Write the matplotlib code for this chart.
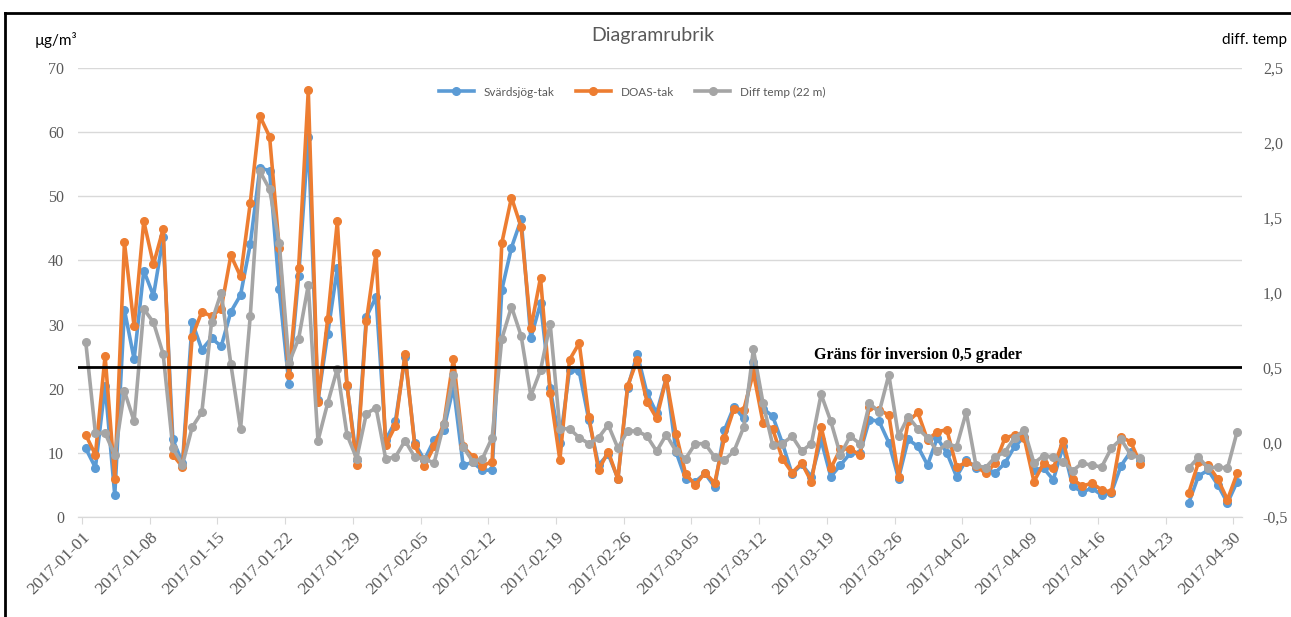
#!/usr/bin/env python3
"""
Svärdsjög-tak / DOAS-tak mot temperaturdifferens, jan-apr 2017
"""
import numpy as np
import pandas as pd
import matplotlib
matplotlib.use('Agg')
import matplotlib.pyplot as plt
import matplotlib.dates as mdates
from matplotlib.lines import Line2D

nan = np.nan

dates = pd.date_range('2017-01-01', '2017-04-30', freq='D')

svardsjog = [10.7, 7.7, 20.5, 3.4, 32.3, 24.6, 38.4, 34.5, 43.6, 12.1,
             8.4, 30.4, 26.1, 27.9, 26.6, 32.0, 34.6, 42.5, 54.4, 54.0,
             35.5, 20.7, 37.5, 59.2, 18.2, 28.5, 38.8, 20.5, 8.9, 31.2,
             34.3, 12.0, 14.9, 25.0, 11.5, 8.9, 12.0, 13.6, 20.3, 8.1,
             8.5, 7.3, 7.3, 35.4, 42.0, 46.4, 27.9, 33.3, 20.1, 11.5,
             22.9, 22.7, 15.1, 8.1, 9.8, 6.0, 20.1, 25.4, 19.3, 16.2,
             21.7, 10.2, 5.9, 5.5, 6.8, 4.7, 13.5, 17.2, 15.4, 24.2,
             16.9, 15.7, 11.5, 6.7, 8.2, 6.3, 12.0, 6.3, 8.1, 9.9,
             9.9, 15.2, 14.9, 11.6, 6.0, 12.1, 11.0, 8.1, 12.3, 10.0,
             6.3, 8.9, 7.7, 7.6, 6.9, 8.4, 11.0, 12.5, 7.4, 7.6,
             5.8, 11.0, 4.8, 3.9, 4.5, 3.4, 3.8, 8.0, 10.2, 8.9,
             nan, nan, nan, nan, 2.2, 6.4, 7.3, 5.0, 2.2, 5.5]

doas = [12.8, 9.7, 25.1, 6.0, 42.8, 29.7, 46.1, 39.4, 44.9, 9.7,
        7.8, 28.1, 32.0, 31.3, 32.5, 40.8, 37.5, 48.9, 62.5, 59.3,
        41.9, 22.1, 38.8, 66.5, 18.0, 30.8, 46.1, 20.6, 8.1, 30.5,
        41.2, 11.2, 14.2, 25.4, 11.2, 8.0, 11.0, 14.5, 24.7, 11.0,
        9.4, 8.0, 8.6, 42.7, 49.8, 45.2, 29.4, 37.3, 19.4, 8.9,
        24.5, 27.1, 15.6, 7.3, 10.2, 5.9, 20.4, 24.5, 18.0, 15.4,
        21.6, 13.0, 6.7, 5.0, 6.9, 5.3, 12.3, 16.9, 16.7, 22.5,
        14.7, 13.7, 9.1, 6.9, 8.4, 5.5, 14.1, 7.6, 10.6, 10.6,
        9.7, 17.2, 16.7, 15.9, 6.3, 14.9, 16.3, 12.0, 13.3, 13.6,
        7.8, 8.5, 8.0, 6.8, 8.4, 12.3, 12.8, 12.3, 5.5, 8.4,
        7.6, 11.9, 5.9, 4.8, 5.3, 4.2, 3.9, 12.5, 11.7, 8.3,
        nan, nan, nan, nan, 3.8, 8.5, 8.1, 5.9, 2.7, 6.8]

diff_temp = [0.67, 0.06, 0.06, -0.085, 0.34, 0.14, 0.89, 0.80, 0.59, -0.04,
             -0.15, 0.10, 0.20, 0.80, 1.00, 0.52, 0.09, 0.84, 1.81, 1.69,
             1.33, 0.53, 0.69, 1.05, 0.01, 0.26, 0.49, 0.05, -0.11, 0.19,
             0.23, -0.11, -0.10, 0.01, -0.10, -0.11, -0.14, 0.12, 0.45, -0.03,
             -0.13, -0.11, 0.03, 0.69, 0.905, 0.71, 0.31, 0.48, 0.79, 0.09,
             0.09, 0.03, -0.01, 0.03, 0.115, -0.04, 0.075, 0.075, 0.04, -0.06,
             0.05, -0.06, -0.11, -0.01, -0.01, -0.10, -0.12, -0.06, 0.10, 0.62,
             0.26, -0.02, -0.01, 0.04, -0.06, -0.01, 0.32, 0.14, -0.085, 0.04,
             -0.01, 0.26, 0.20, 0.45, 0.04, 0.17, 0.09, 0.03, -0.06, -0.01,
             -0.03, 0.20, -0.155, -0.17, -0.10, -0.065, 0.03, 0.08, -0.14, -0.09,
             -0.10, -0.13, -0.19, -0.14, -0.155, -0.165, -0.04, 0.02, -0.085, -0.105,
             nan, nan, nan, nan, -0.174, -0.10, -0.174, -0.165, -0.174, 0.071]

tick_dates = pd.date_range('2017-01-01', '2017-04-30', freq='7D')
inversion_limit = 0.5

BLUE = '#5B9BD5'
ORANGE = '#ED7D31'
GRAY = '#A5A5A5'
TXT = '#595959'

fig = plt.figure(figsize=(12.91, 6.17), dpi=100)
ax = fig.add_axes([78/1291, 1-517/617, (1242-78)/1291, (517-68)/617])
ax2 = ax.twinx()

x = mdates.date2num(dates)
ax.plot(x, svardsjog, color=BLUE, lw=2.6, marker='o', ms=5.5, label='Svärdsjög-tak', zorder=3)
ax.plot(x, doas, color=ORANGE, lw=2.6, marker='o', ms=5.5, label='DOAS-tak', zorder=4)
ax2.plot(x, diff_temp, color=GRAY, lw=2.6, marker='o', ms=5.5, label='Diff temp (22 m)', zorder=3)

ax2.axhline(inversion_limit, color='black', lw=2, zorder=5)
ax2.text(x[86], inversion_limit + 0.03, 'Gräns för inversion 0,5 grader',
         family='Liberation Serif', fontweight='bold', fontsize=11.5, ha='center', va='bottom')

ax.set_ylim(0, 70)
ax.set_yticks(range(0, 71, 10))
ax2.set_ylim(-0.5, 2.5)
ax2.set_yticks(np.arange(-0.5, 2.51, 0.5))
ax2.set_yticklabels([f'{v:.1f}'.replace('.', ',') for v in np.arange(-0.5, 2.51, 0.5)])

ax.set_xlim(x[0] - 0.8, x[-1] + 0.5)
ax.set_xticks(mdates.date2num(tick_dates) - 0.4)
ax.set_xticklabels([d.strftime('%Y-%m-%d') for d in tick_dates], rotation=45,
                   ha='right', rotation_mode='anchor', family='Liberation Serif',
                   fontsize=12.5, color=TXT)

ax.grid(axis='y', color='#D9D9D9', lw=1)
ax.set_axisbelow(True)
for a in (ax, ax2):
    for s in ('top', 'left', 'right'):
        a.spines[s].set_visible(False)
    a.spines['bottom'].set_color('#D9D9D9')
ax.tick_params(axis='x', length=5, color='#D9D9D9', pad=4)
ax.tick_params(axis='y', length=0, pad=10, labelcolor=TXT, labelsize=11.5)
ax2.tick_params(axis='y', length=0, pad=15, labelcolor=TXT, labelsize=11.5)
for lab in ax.get_yticklabels() + ax2.get_yticklabels():
    lab.set_family('Liberation Serif')

fig.text(653/1291, 1-35/617, 'Diagramrubrik', ha='center', va='center',
         fontsize=14, color=TXT, family='Lato')
fig.text(35/1291, 1-40/617, 'µg/m³', ha='left', va='center', fontsize=11, color='black', family='Lato')
fig.text(1287/1291, 1-40/617, 'diff. temp', ha='right', va='center', fontsize=11, color='black', family='Lato')

h1, l1 = ax.get_legend_handles_labels()
h2, l2 = ax2.get_legend_handles_labels()
fig.legend(h1 + h2, l1 + l2, loc='center', bbox_to_anchor=(632/1291, 1-92/617), ncol=3,
           frameon=False, prop={'family': 'Lato', 'size': 8.5}, handlelength=3,
           columnspacing=1.8, labelcolor=TXT)

# ramen runt diagrammet
fig.add_artist(Line2D([5/1291, 5/1291], [0, 1-13/617], color='black', lw=2))
fig.add_artist(Line2D([5/1291, 1], [1-13/617, 1-13/617], color='black', lw=2))

fig.savefig('out.png', dpi=100)
